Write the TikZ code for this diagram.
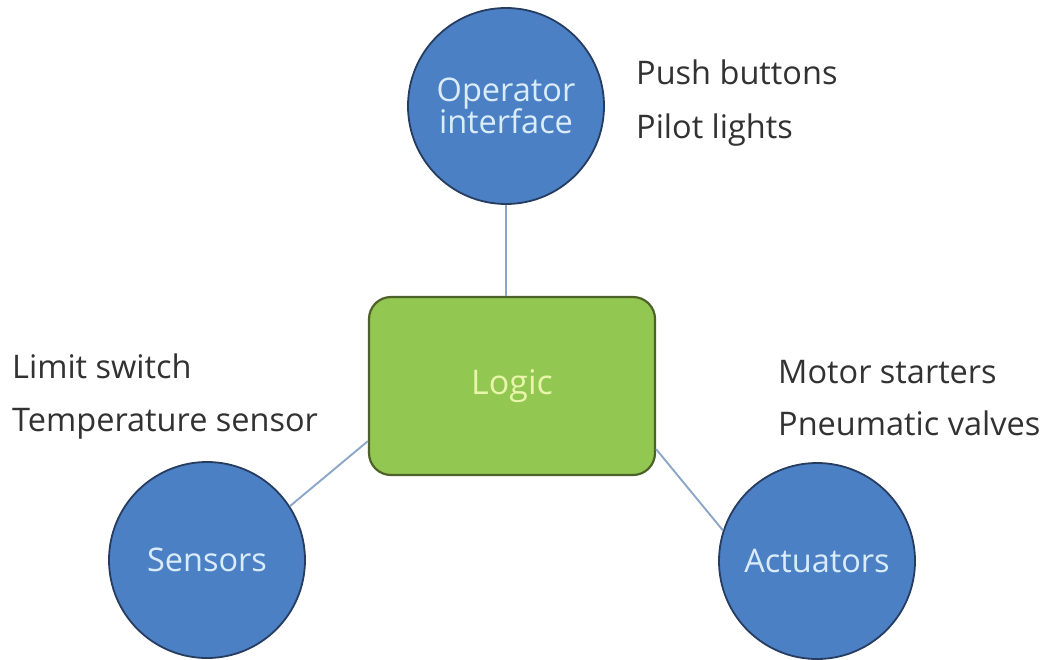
\documentclass[tikz,border=0pt]{standalone}
\usepackage{fontspec}
\setmainfont{Open Sans}
\usetikzlibrary{calc}

\definecolor{discblue}{RGB}{76,128,196}
\definecolor{discedge}{RGB}{38,60,96}
\definecolor{disctext}{RGB}{218,236,250}
\definecolor{logicgreen}{RGB}{146,199,82}
\definecolor{logicedge}{RGB}{78,98,40}
\definecolor{logictext}{RGB}{232,245,170}
\definecolor{linkblue}{RGB}{140,166,200}
\definecolor{notegray}{RGB}{50,50,50}

\begin{document}
\begin{tikzpicture}[x=1pt,y=-1pt,
  every node/.style={font=\fontsize{32.5}{34}\selectfont},
  disc/.style={circle, draw=discedge, line width=1.8pt, fill=discblue,
    text=disctext, minimum size=196pt, inner sep=0pt, align=center},
  core/.style={rectangle, rounded corners=22pt, draw=logicedge, line width=2.2pt,
    fill=logicgreen, text=logictext, minimum width=286pt, minimum height=178pt,
    inner sep=0pt, font=\fontsize{34}{36}\selectfont},
  note/.style={anchor=base west, text=notegray, inner sep=0pt},
  link/.style={draw=linkblue, line width=1.9pt}]

  \useasboundingbox[fill=white] (0,0) rectangle (1051,659);

  % central block and the three discs round it
  \node[core] (logic) at (512,386) {Logic};
  \node[disc] (op)   at (506,106) {Operator\\[-2pt]interface};
  \node[disc] (sens) at (207,560) {Sensors};
  \node[disc] (act)  at (817,561) {Actuators};

  % connectors
  \draw[link] (op.south) -- (op.south |- logic.north);
  \coordinate (lw) at ($(logic.south west)+(0,-35)$);
  \coordinate (le) at ($(logic.south east)+(0,-27)$);
  \draw[link] (lw) -- (sens.33);
  \draw[link] (le) -- (act.162);

  % examples beside each disc
  \node[note] (pb) at (636,84)  {Push buttons};
  \node[note] (pl) at (636,138) {Pilot lights};
  \node[note] (ls) at (12,378)  {Limit switch};
  \node[note] (ts) at (12,431)  {Temperature sensor};
  \node[note] (ms) at (778,383) {Motor starters};
  \node[note] (pv) at (778,435) {Pneumatic valves};
\end{tikzpicture}
\end{document}
